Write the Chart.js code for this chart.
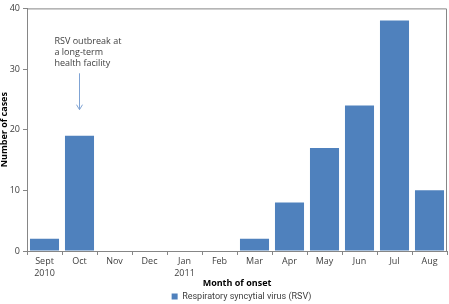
<!DOCTYPE html>
<html>
<head>
<meta charset="utf-8">
<script src="https://cdn.jsdelivr.net/npm/chart.js@4"></script>
<style>
  html, body { margin: 0; padding: 0; background: #fff; }
  #wrap { width: 449px; height: 304px; }
</style>
</head>
<body>
<div id="wrap"><canvas id="rsvChart" width="449" height="304"></canvas></div>
<script>
// data
const months = [["Sept", "2010"], "Oct", "Nov", "Dec", ["Jan", "2011"], "Feb", "Mar", "Apr", "May", "Jun", "Jul", "Aug"];
const rsvCases = [2, 19, 0, 0, 0, 0, 2, 8, 17, 24, 38, 10];
const yTicks = [0, 10, 20, 30, 40];
const noteLines = ["RSV outbreak at", "a long-term", "health facility"];

const FONT = "'Open Sans', 'Noto Sans', sans-serif";
const NARROW = "Roboto, 'Open Sans', sans-serif";
const axisGrey = "#868686";

// plot frame (top + right) and the outbreak note with its arrow
const extras = {
  id: "extras",
  afterLayout(chart) {
    // legend sits a bit right of the canvas centre in the original
    if (chart.legend) {
      chart.legend.left += 18;
      chart.legend.right += 18;
    }
  },
  afterDraw(chart) {
    const ctx = chart.ctx;
    const a = chart.chartArea;
    const x = chart.scales.x;
    const y = chart.scales.y;
    ctx.save();
    ctx.strokeStyle = axisGrey;
    ctx.lineWidth = 1;
    ctx.beginPath();
    ctx.moveTo(a.left, a.top + 0.5);
    ctx.lineTo(a.right - 0.5, a.top + 0.5);
    ctx.lineTo(a.right - 0.5, a.bottom);
    ctx.stroke();

    // note text above the Oct bar
    const cx = x.getPixelForValue(1);
    ctx.fillStyle = "#404040";
    ctx.font = "9px " + FONT;
    ctx.textAlign = "left";
    ctx.textBaseline = "middle";
    const ty = y.getPixelForValue(34.6);
    noteLines.forEach((t, i) => ctx.fillText(t, cx - 25, ty + i * 11));

    // arrow
    const y0 = y.getPixelForValue(29.3);
    const y1 = y.getPixelForValue(23.3);
    const ax = Math.round(cx) - 0.5;
    ctx.strokeStyle = "#7FA3D4";
    ctx.beginPath();
    ctx.moveTo(ax, y0);
    ctx.lineTo(ax, y1);
    ctx.moveTo(ax - 3, y1 - 5);
    ctx.lineTo(ax, y1);
    ctx.lineTo(ax + 3, y1 - 5);
    ctx.stroke();
    ctx.restore();
  }
};

new Chart(document.getElementById("rsvChart").getContext("2d"), {
  type: "bar",
  data: {
    labels: months,
    datasets: [
      {
        label: "Respiratory syncytial virus (RSV)",
        data: rsvCases,
        backgroundColor: "#4F81BD",
        borderColor: "#4F81BD",
        borderWidth: 0,
        barPercentage: 0.83,
        categoryPercentage: 1.0,
      },
    ],
  },
  options: {
    responsive: false,
    animation: false,
    devicePixelRatio: 1,
    layout: { padding: { top: 3, right: 2, left: 0, bottom: 0 } },
    plugins: {
      tooltip: { enabled: false },
      legend: {
        position: "bottom",
        maxHeight: 15,
        labels: {
          color: "#404040",
          font: { family: NARROW, size: 9 },
          boxWidth: 6,
          boxHeight: 6,
          padding: 3,
        },
      },
    },
    scales: {
      x: {
        offset: true,
        grid: { offset: true, drawOnChartArea: false, drawTicks: true, tickLength: 4, color: axisGrey },
        border: { color: axisGrey },
        ticks: { color: "#404040", font: { family: FONT, size: 9, lineHeight: 1.3 }, padding: 1, maxRotation: 0, autoSkip: false },
        title: { display: true, text: "Month of onset", color: "#000", font: { family: FONT, size: 9, weight: "bold" }, padding: { top: 2, bottom: 0 } },
        afterFit(scale) {
          scale.height = 304 - 251 - 15;
        },
      },
      y: {
        min: 0,
        max: 40,
        afterBuildTicks(scale) {
          scale.ticks = yTicks.map((v) => ({ value: v }));
        },
        grid: { drawOnChartArea: false, drawTicks: true, tickLength: 4, color: axisGrey },
        border: { color: axisGrey },
        ticks: { color: "#404040", font: { family: FONT, size: 9 }, padding: 3 },
        title: { display: true, text: "Number of cases", color: "#000", font: { family: FONT, size: 9, weight: "bold" }, padding: { top: -1, bottom: 0 } },
        afterFit(scale) {
          scale.width = 27;
        },
      },
    },
  },
  plugins: [extras],
});
</script>
</body>
</html>
